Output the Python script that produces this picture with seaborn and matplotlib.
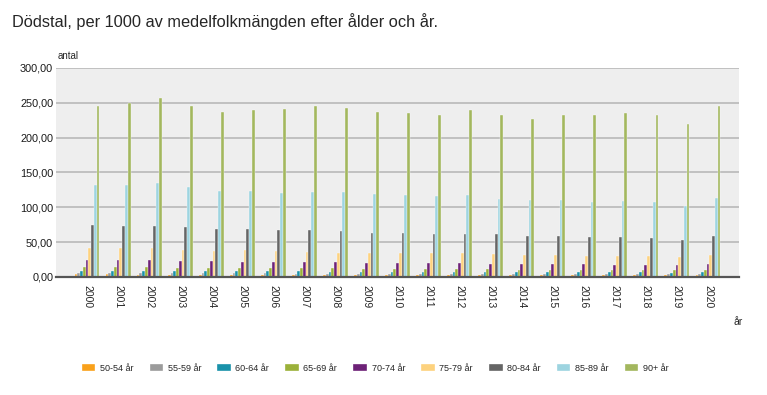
import pandas as pd
import matplotlib.pyplot as plt
import seaborn as sns

years = [str(y) for y in range(2000, 2021)]
ages = ['50-54 år', '55-59 år', '60-64 år', '65-69 år', '70-74 år',
        '75-79 år', '80-84 år', '85-89 år', '90+ år']
colors = ['#F9A11B', '#9B9B9B', '#1A92AA', '#9BB13A', '#6D2177',
          '#FDD27E', '#656565', '#9DD4E0', '#A3B75E']

# values, one list per age group
v50 = [3.5, 3.5, 3.4, 3.3, 3.2, 3.1, 3.0, 3.0, 2.9, 2.8, 2.8, 2.7, 2.6, 2.6, 2.5, 2.4, 2.4, 2.3, 2.3, 2.2, 2.3]
v55 = [5.5, 5.5, 5.5, 5.2, 5.1, 5.0, 4.9, 4.8, 4.7, 4.5, 4.5, 4.4, 4.3, 4.2, 4.1, 4.0, 4.0, 4.0, 3.9, 3.8, 4.0]
v60 = [9.0, 9.0, 9.0, 8.6, 8.5, 8.2, 8.0, 7.9, 7.6, 7.5, 7.2, 7.1, 7.0, 7.0, 6.7, 6.6, 6.6, 6.5, 6.5, 6.2, 6.6]
v65 = [14.5, 14.2, 14.0, 13.4, 13.1, 13.0, 12.6, 12.3, 12.1, 12.0, 11.6, 11.2, 11.1, 11.0, 10.6, 10.5, 10.3, 10.1, 10.0, 9.6, 10.3]
v70 = [24.0, 24.0, 24.0, 23.0, 22.8, 22.0, 22.0, 21.0, 21.0, 20.5, 20.0, 20.0, 19.5, 19.0, 18.5, 18.2, 18.0, 17.5, 17.3, 17.0, 18.0]
v75 = [42.0, 41.0, 41.0, 39.0, 37.0, 38.0, 37.0, 36.0, 35.0, 35.0, 34.0, 34.0, 34.5, 33.0, 31.5, 31.5, 30.5, 30.5, 30.0, 29.0, 31.5]
v80 = [75.0, 72.5, 72.5, 71.0, 69.0, 69.0, 68.0, 67.0, 65.5, 63.5, 63.5, 62.0, 62.0, 61.0, 59.0, 59.0, 57.5, 57.5, 56.5, 53.0, 58.5]
v85 = [132.0, 132.0, 135.0, 129.0, 124.0, 123.0, 120.5, 122.0, 122.0, 119.0, 117.5, 116.0, 118.0, 112.0, 110.0, 111.0, 107.0, 109.0, 107.0, 101.5, 113.5]
v90 = [246.0, 250.0, 257.0, 245.0, 237.0, 240.0, 241.0, 245.0, 243.0, 237.0, 236.0, 232.5, 239.0, 233.0, 226.0, 232.5, 233.0, 235.0, 232.0, 220.0, 245.0]

series = [v50, v55, v60, v65, v70, v75, v80, v85, v90]
df = pd.DataFrame([(y, a, v) for a, vals in zip(ages, series) for y, v in zip(years, vals)],
                  columns=['år', 'ålder', 'antal'])

sns.set_style('white')
plt.rcParams['font.family'] = ['Liberation Sans', 'DejaVu Sans']

fig = plt.figure(figsize=(7.67, 3.95), dpi=100)
ax = fig.add_axes([0.073, 0.299, 0.8905, 0.529])
ax.set_facecolor('#EEEEEE')

sns.barplot(data=df, x='år', y='antal', hue='ålder', palette=colors, saturation=1,
            width=0.8, edgecolor='white', linewidth=0.25, ax=ax, legend=True)

ax.set_xlim(-1, 21)
ax.set_ylim(0, 300)
ax.set_yticks(range(0, 301, 50))
ax.set_yticklabels([f'{t},00' for t in range(0, 301, 50)], fontsize=7.8, color='#1a1a1a')
ax.grid(axis='y', color='#BDBDBD', linewidth=1.3)
ax.set_axisbelow(True)
ax.tick_params(axis='x', labelrotation=-90, labelsize=7.5, length=0, pad=6)
ax.tick_params(axis='y', length=0, pad=2)
for s in ['top', 'right', 'left']:
    ax.spines[s].set_visible(False)
ax.spines['bottom'].set_color('#555555')
ax.spines['bottom'].set_linewidth(1.6)
ax.set_xlabel('')
ax.set_ylabel('')

fig.text(0.016, 0.945, 'Dödstal, per 1000 av medelfolkmängden efter ålder och år.',
         fontsize=11.8, va='center', ha='left')
fig.text(0.075, 0.845, 'antal', fontsize=7, ha='left', va='bottom')
fig.text(0.962, 0.185, 'år', fontsize=7.5, ha='center', va='center')

h, l = ax.get_legend_handles_labels()
ax.legend_.remove()
fig.legend(h, l, loc='center', bbox_to_anchor=(0.489, 0.068), ncol=9, frameon=False,
           fontsize=6.5, handlelength=1.5, handleheight=0.8, columnspacing=1.8,
           handletextpad=0.5)

fig.savefig('out.png', dpi=100)
